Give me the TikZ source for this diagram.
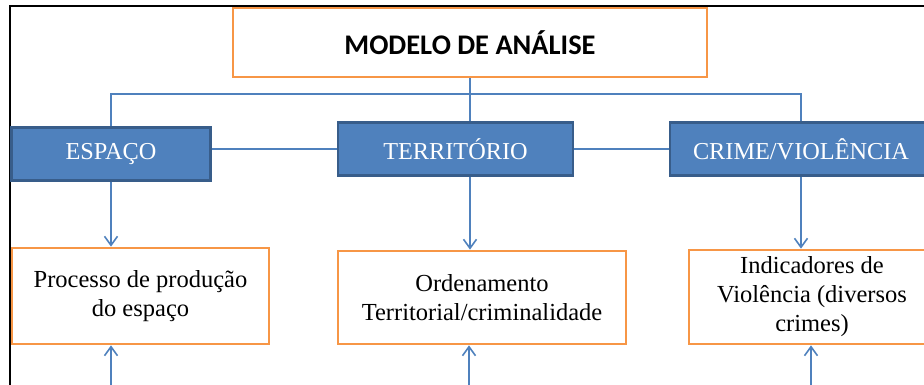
\documentclass[tikz,border=0pt]{standalone}
\usepackage{fontspec}
\setmainfont{Liberation Serif}
\newfontfamily\titlefont{Carlito}
\usetikzlibrary{arrows.meta}

\definecolor{boxorange}{HTML}{F79646}
\definecolor{boxblue}{HTML}{4F81BD}
\definecolor{boxblueline}{HTML}{385D8A}

\tikzset{
  titlebox/.style={draw=boxorange, line width=2.7pt, fill=white, minimum width=474pt, minimum height=69pt, font=\titlefont\bfseries\fontsize{28.4}{32}\selectfont},
  headbox/.style={draw=boxblueline, line width=2.2pt, fill=boxblue, text=white, minimum height=53pt, font=\fontsize{24.3}{28}\selectfont},
  itembox/.style={draw=boxorange, line width=2.7pt, fill=white, minimum height=94pt, align=center, font=\fontsize{24.5}{29}\selectfont},
  link/.style={draw=boxblue, line width=1.6pt},
  arr/.style={link, -{Straight Barb[length=9pt,width=13pt,line width=1.6pt]}}
}

\begin{document}
\begin{tikzpicture}[x=1pt, y=-1pt]
        \useasboundingbox (0,0) rectangle (924,384);
        \draw[line width=2.5pt] (10,390) -- (10,6) -- (930,6);

        \node[titlebox] (title) at (470, 42.5) {MODELO DE ANÁLISE};

        \node[headbox, minimum width=199pt] (espaco) at (111, 154) {ESPAÇO};
        \node[headbox, minimum width=235pt] (territorio) at (455.5, 149) {TERRITÓRIO};
        \node[headbox, minimum width=262pt] (crime) at (801, 149) {CRIME/VIOLÊNCIA};

        \node[itembox, minimum width=257pt, minimum height=96pt] (processo) at (140.5, 296) {Processo de produção\\do espaço};
        \node[itembox, minimum width=288pt, minimum height=93pt] (ordenamento) at (482, 297.5) {Ordenamento\\Territorial/criminalidade};
        \node[itembox, minimum width=246pt] (indicadores) at (812, 297) {Indicadores de\\Violência (diversos\\crimes)};

        \coordinate (bus) at (470, 94);
        \coordinate (inA) at (111, 400);
        \coordinate (inB) at (469, 400);
        \coordinate (inC) at (811, 400);

        \draw[link] (title.south) -- (title.south |- territorio.north);
        \draw[link] (espaco.north) |- (bus) -| (crime.north);
        \draw[link] (espaco.east |- territorio.west) -- (territorio.west);
        \draw[link] (territorio.east) -- (crime.west);

        \draw[arr] (espaco.south) -- (espaco.south |- processo.north);
        \draw[arr] (title.south |- territorio.south) -- (title.south |- ordenamento.north);
        \draw[arr] (crime.south) -- (crime.south |- indicadores.north);

        \draw[arr] (inA) -- (inA |- processo.south);
        \draw[arr] (inB) -- (inB |- ordenamento.south);
        \draw[arr] (inC) -- (inC |- indicadores.south);

    \end{tikzpicture}
\end{document}
